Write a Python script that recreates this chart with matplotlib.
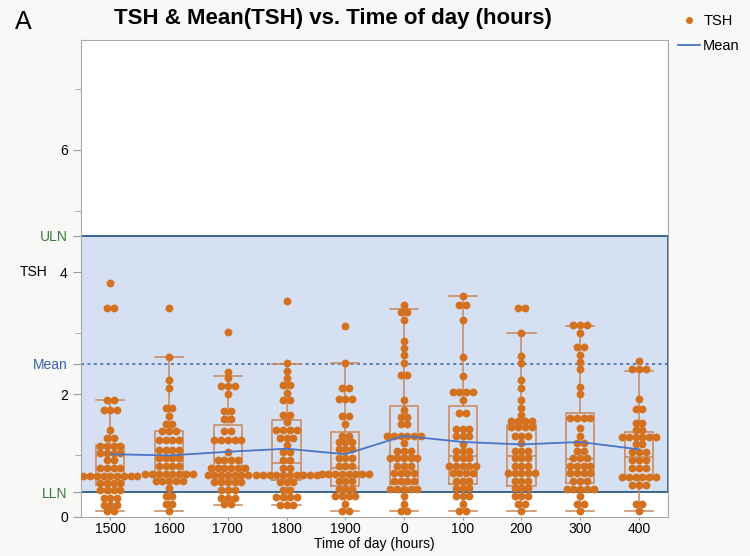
import numpy as np
import matplotlib.pyplot as plt
from matplotlib.lines import Line2D

plt.rcParams['font.family'] = ['Liberation Sans', 'DejaVu Sans']

times = ['1500', '1600', '1700', '1800', '1900', '0', '100', '200', '300', '400']

# beeswarm rows: TSH value of each row, dots in that row
tsh_1500 = [3.83, 3.42, 1.90, 1.74, 1.41, 1.29, 1.16, 1.04, 0.92, 0.80, 0.66, 0.55, 0.43, 0.30, 0.19, 0.09]
n_1500 = [1, 2, 2, 3, 1, 2, 4, 4, 2, 4, 9, 4, 4, 3, 3, 2]
tsh_1600 = [3.42, 2.61, 2.23, 2.10, 1.77, 1.64, 1.52, 1.40, 1.26, 1.09, 0.96, 0.83, 0.70, 0.58, 0.46, 0.34, 0.21, 0.09]
n_1600 = [1, 1, 1, 1, 2, 1, 2, 3, 4, 4, 4, 4, 8, 5, 1, 2, 2, 1]
tsh_1700 = [3.02, 2.37, 2.26, 2.13, 2.01, 1.73, 1.60, 1.40, 1.26, 1.05, 0.93, 0.80, 0.68, 0.57, 0.44, 0.31, 0.20]
n_1700 = [1, 1, 1, 3, 1, 2, 2, 2, 5, 1, 4, 6, 7, 5, 3, 3, 2]
tsh_1800 = [3.52, 2.52, 2.39, 2.27, 2.15, 2.03, 1.90, 1.67, 1.55, 1.42, 1.29, 1.17, 1.06, 0.93, 0.80, 0.68, 0.57, 0.44, 0.32, 0.19]
n_1800 = [1, 1, 1, 1, 2, 1, 2, 2, 1, 4, 3, 1, 2, 2, 2, 10, 3, 2, 4, 3]
tsh_1900 = [3.12, 2.51, 2.11, 1.92, 1.64, 1.52, 1.31, 1.22, 1.10, 0.95, 0.83, 0.70, 0.58, 0.45, 0.34, 0.21, 0.09]
n_1900 = [1, 1, 2, 3, 2, 1, 2, 3, 3, 3, 3, 8, 3, 3, 4, 1, 2]
tsh_0 = [3.47, 3.35, 3.22, 2.87, 2.76, 2.64, 2.51, 2.31, 1.90, 1.75, 1.63, 1.51, 1.32, 1.20, 1.07, 0.95, 0.83, 0.71, 0.58, 0.45, 0.34, 0.21, 0.09]
n_0 = [1, 2, 1, 1, 1, 1, 1, 2, 1, 1, 2, 2, 6, 1, 3, 5, 3, 4, 4, 5, 1, 1, 2]
tsh_100 = [3.61, 3.47, 3.21, 2.61, 2.30, 2.04, 1.91, 1.70, 1.44, 1.32, 1.19, 1.07, 0.95, 0.83, 0.71, 0.58, 0.46, 0.34, 0.21, 0.09]
n_100 = [1, 2, 1, 1, 1, 4, 1, 2, 3, 3, 1, 3, 3, 5, 4, 3, 3, 3, 1, 2]
tsh_200 = [3.42, 3.01, 2.63, 2.51, 2.23, 2.11, 1.90, 1.78, 1.66, 1.57, 1.46, 1.32, 1.20, 1.07, 0.95, 0.83, 0.71, 0.58, 0.46, 0.34, 0.21, 0.09]
n_200 = [2, 1, 1, 1, 1, 1, 1, 1, 1, 4, 4, 3, 1, 3, 3, 3, 5, 3, 3, 3, 2, 1]
tsh_300 = [3.14, 3.01, 2.77, 2.65, 2.53, 2.41, 2.12, 2.00, 1.62, 1.45, 1.32, 1.20, 1.07, 0.95, 0.83, 0.71, 0.58, 0.45, 0.34, 0.21, 0.09]
n_300 = [3, 1, 2, 1, 1, 1, 1, 1, 4, 1, 1, 2, 2, 3, 4, 4, 3, 5, 1, 2, 1]
tsh_400 = [2.55, 2.41, 1.92, 1.76, 1.53, 1.42, 1.30, 1.18, 1.05, 0.92, 0.80, 0.65, 0.52, 0.21, 0.09]
n_400 = [1, 3, 1, 2, 2, 2, 6, 2, 3, 3, 3, 6, 3, 2, 1]

rows = [tsh_1500, tsh_1600, tsh_1700, tsh_1800, tsh_1900, tsh_0, tsh_100, tsh_200, tsh_300, tsh_400]
counts = [n_1500, n_1600, n_1700, n_1800, n_1900, n_0, n_100, n_200, n_300, n_400]

# box plot summary
q1 = [0.51, 0.55, 0.61, 0.60, 0.50, 0.54, 0.53, 0.50, 0.55, 0.62]
med = [0.68, 0.92, 0.80, 0.88, 0.79, 0.99, 0.99, 0.99, 0.94, 0.98]
q3 = [1.17, 1.40, 1.50, 1.58, 1.39, 1.81, 1.81, 1.50, 1.70, 1.39]
whis_lo = [0.09, 0.09, 0.19, 0.19, 0.09, 0.09, 0.09, 0.09, 0.09, 0.09]
whis_hi = [1.90, 2.61, 2.30, 2.50, 2.51, 3.40, 3.61, 3.01, 3.12, 2.39]
mean_tsh = [1.02, 1.00, 1.06, 1.11, 1.02, 1.32, 1.22, 1.18, 1.22, 1.10]

ULN, LLN, MEAN_REF = 4.6, 0.4, 2.5

dot_c = '#D4711E'
box_c = '#C8875A'
band_edge = '#2F5C86'

fig = plt.figure(figsize=(7.5, 5.56), dpi=100, facecolor='#F8F8F6')
ax = fig.add_axes([0.108, 0.071, 0.783, 0.857])
ax.set_facecolor('white')

ax.axhspan(LLN, ULN, facecolor='#D6E0F3', edgecolor=band_edge, lw=1.3, zorder=0)
ax.axhline(MEAN_REF, color='#3A60B0', lw=1.1, ls=(0, (2, 2.2)), zorder=1)

x = np.arange(len(times))
stats = []
for i in range(len(times)):
    stats.append(dict(q1=q1[i], med=med[i], q3=q3[i], whislo=whis_lo[i], whishi=whis_hi[i], fliers=[]))
ax.bxp(stats, positions=x, widths=0.48, showfliers=False, patch_artist=False,
       boxprops=dict(color=box_c, lw=1.1), medianprops=dict(color=box_c, lw=1.1),
       whiskerprops=dict(color=box_c, lw=1.1), capprops=dict(color=box_c, lw=1.1),
       capwidths=0.48, manage_ticks=False, zorder=2)

# simple beeswarm: spread each row of dots around the group centre
dx = 0.115
for i in range(len(times)):
    for v, n in zip(rows[i], counts[i]):
        off = (np.arange(n) - (n - 1) / 2) * dx
        ax.scatter(x[i] + off, np.full(n, v), s=32, color=dot_c, lw=0, zorder=3)

ax.plot(x, mean_tsh, color='#4A74C8', lw=1.3, zorder=4)

ax.set_xlim(-0.5, 9.5)
ax.set_ylim(0, 7.8)
ax.set_xticks(x)
ax.set_xticklabels(times, fontsize=10)
ax.set_xlabel('Time of day (hours)', fontsize=10, labelpad=1)

ax.set_yticks([0, LLN, 2, MEAN_REF, 4, ULN, 6])
ylabs = ax.set_yticklabels(['0', 'LLN', '2', 'Mean', '4', 'ULN', '6'], fontsize=10)
for lab in ylabs:
    if lab.get_text() in ('ULN', 'LLN'):
        lab.set_color('#3B7A3B')
    elif lab.get_text() == 'Mean':
        lab.set_color('#3A60B0')
ax.set_yticks([1, 3, 5, 7], minor=True)
ax.tick_params(axis='y', which='major', length=6, color='#9A9A9A')
ax.tick_params(axis='x', which='major', length=2, pad=2, color='#9A9A9A')
ax.tick_params(axis='y', which='minor', length=4, color='#9A9A9A')
for s in ax.spines.values():
    s.set_color('#A8A8A8')

fig.text(0.027, 0.51, 'TSH', fontsize=10, ha='left', va='center')
fig.text(0.02, 0.96, 'A', fontsize=18, ha='left', va='center')
fig.text(0.444, 0.967, 'TSH & Mean(TSH) vs. Time of day (hours)', fontsize=16,
         fontweight='bold', ha='center', va='center')

handles = [Line2D([], [], marker='o', color=dot_c, ls='none', ms=4),
           Line2D([], [], color='#4A74C8', lw=1.3)]
fig.legend(handles, ['TSH', 'Mean'], loc='upper left', bbox_to_anchor=(0.887, 0.999),
           frameon=False, fontsize=10.5, handlelength=1.5, handletextpad=0.2, labelspacing=0.75)

fig.savefig('out.png', dpi=100, facecolor=fig.get_facecolor())
